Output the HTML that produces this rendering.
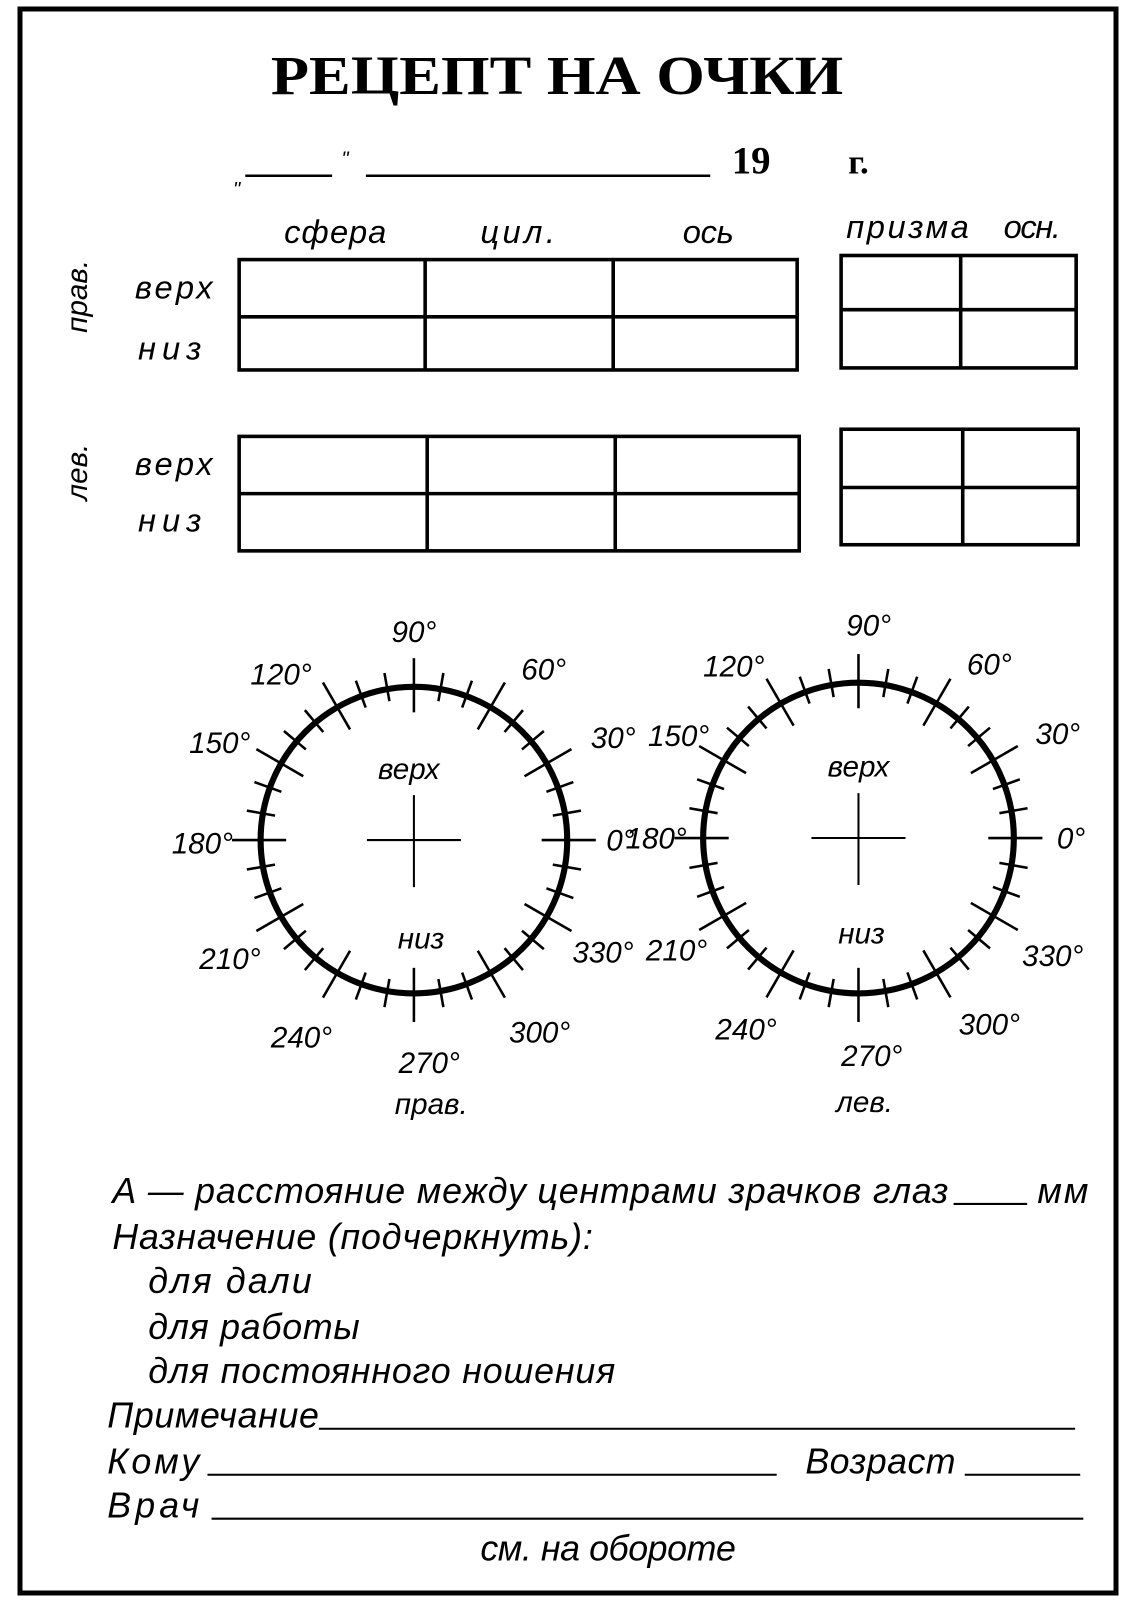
<!DOCTYPE html>
<html><head><meta charset="utf-8"><style>
html,body{margin:0;padding:0;background:#fff}
svg{display:block}
.t{font-family:"Liberation Sans","DejaVu Sans",sans-serif;font-style:italic;fill:#000}
.s{font-family:"Liberation Serif",serif;font-weight:bold;fill:#000}
</style></head><body>
<svg id="sv" width="1128" height="1604" viewBox="0 0 1128 1604" xmlns="http://www.w3.org/2000/svg">
<rect x="20" y="9" width="1096" height="1584" fill="none" stroke="#000" stroke-width="5"/>
<g transform="scale(1.022)">
<text x="545" y="92" text-anchor="middle" class="s" font-size="54" textLength="560" lengthAdjust="spacingAndGlyphs">РЕЦЕПТ НА ОЧКИ</text>
<g stroke="#000" stroke-width="2.5">
<line x1="240" y1="172" x2="325" y2="172"/>
<line x1="358" y1="172" x2="695" y2="172"/>
</g>
<text x="228" y="192" class="t" font-size="20">"</text>
<text x="334" y="162" class="t" font-size="20">"</text>
<text x="735" y="170" text-anchor="middle" class="s" font-size="38" font-weight="normal">19</text>
<text x="840" y="170" text-anchor="middle" class="s" font-size="34" font-weight="normal">г.</text>
<g class="t" font-size="32" lengthAdjust="spacingAndGlyphs">
<text x="278" y="238" textLength="100">сфера</text><text x="470" y="238" textLength="73">цил.</text><text x="668" y="238" textLength="50">ось</text>
<text x="828" y="233" textLength="120">призма</text><text x="982" y="233" textLength="56">осн.</text>
<text x="132" y="292" textLength="76">верх</text><text x="135" y="352" textLength="62">низ</text>
<text x="132" y="465" textLength="76">верх</text><text x="135" y="520" textLength="62">низ</text>
</g>
<g class="t" font-size="29" text-anchor="middle">
<text transform="translate(85,290) rotate(-90)">прав.</text>
<text transform="translate(85,462) rotate(-90)">лев.</text>
</g>
<g fill="none" stroke="#000" stroke-width="3.5">
<rect x="234" y="254" width="546" height="108"/>
<line x1="234" y1="310" x2="780" y2="310"/><line x1="416" y1="254" x2="416" y2="362"/><line x1="600" y1="254" x2="600" y2="362"/>
<rect x="823" y="250" width="230" height="110"/>
<line x1="823" y1="303" x2="1053" y2="303"/><line x1="940" y1="250" x2="940" y2="360"/>
<rect x="234" y="427" width="548" height="112"/>
<line x1="234" y1="483" x2="782" y2="483"/><line x1="418" y1="427" x2="418" y2="539"/><line x1="602" y1="427" x2="602" y2="539"/>
<rect x="823" y="420" width="232" height="113"/>
<line x1="823" y1="477" x2="1055" y2="477"/><line x1="942" y1="420" x2="942" y2="533"/>
</g>
<g id="dials"></g>
<g class="t" font-size="29" text-anchor="middle">
<text x="405" y="628">90°</text><text x="532" y="665">60°</text><text x="600" y="732">30°</text><text x="607" y="832">0°</text>
<text x="590" y="942">330°</text><text x="528" y="1020">300°</text><text x="420" y="1050">270°</text><text x="295" y="1025">240°</text>
<text x="225" y="948">210°</text><text x="198" y="835">180°</text><text x="215" y="737">150°</text><text x="275" y="670">120°</text>
<text x="400" y="762">верх</text><text x="412" y="928">низ</text><text x="422" y="1090">прав.</text>
<text x="850" y="622">90°</text><text x="968" y="660">60°</text><text x="1035" y="728">30°</text><text x="1048" y="830">0°</text>
<text x="1030" y="945">330°</text><text x="968" y="1012">300°</text><text x="853" y="1043">270°</text><text x="730" y="1017">240°</text>
<text x="662" y="940">210°</text><text x="642" y="830">180°</text><text x="664" y="730">150°</text><text x="718" y="662">120°</text>
<text x="840" y="760">верх</text><text x="843" y="923">низ</text><text x="846" y="1088">лев.</text>
</g>
<g class="t" font-size="35" lengthAdjust="spacingAndGlyphs">
<text x="110" y="1177" textLength="818">А — расстояние между центрами зрачков глаз</text>
<text x="1015" y="1177" textLength="50">мм</text>
<text x="110" y="1222" textLength="470">Назначение (подчеркнуть):</text>
<text x="145" y="1265" textLength="160">для дали</text>
<text x="145" y="1310" textLength="207">для работы</text>
<text x="145" y="1353" textLength="457">для постоянного ношения</text>
<text x="105" y="1397" textLength="207">Примечание</text>
<text x="105" y="1442" textLength="90">Кому</text>
<text x="788" y="1442" textLength="147">Возраст</text>
<text x="105" y="1485" textLength="90">Врач</text>
<text x="470" y="1527" textLength="250">см. на обороте</text>
</g>
<g stroke="#000" stroke-width="2">
<line x1="933" y1="1178" x2="1005" y2="1178"/>
<line x1="312" y1="1398" x2="1052" y2="1398"/>
<line x1="203" y1="1443" x2="760" y2="1443"/>
<line x1="944" y1="1443" x2="1057" y2="1443"/>
<line x1="207" y1="1486" x2="1060" y2="1486"/>
</g>
</g>
</svg>
<script>
(function(){
var g=document.getElementById('dials'),h='';
function dial(cx,cy,r){
 h+='<circle cx="'+cx+'" cy="'+cy+'" r="'+r+'" fill="none" stroke="#000" stroke-width="6"/>';
 for(var a=0;a<360;a+=10){
  var rad=a*Math.PI/180,c=Math.cos(rad),s=-Math.sin(rad);
  var big=(a%30==0),ri=big?r-25:r-12,ro=big?r+28:r+16;
  h+='<line x1="'+(cx+ri*c)+'" y1="'+(cy+ri*s)+'" x2="'+(cx+ro*c)+'" y2="'+(cy+ro*s)+'" stroke="#000" stroke-width="2.5"/>';
 }
 h+='<line x1="'+(cx-46)+'" y1="'+cy+'" x2="'+(cx+46)+'" y2="'+cy+'" stroke="#000" stroke-width="2"/>';
 h+='<line x1="'+cx+'" y1="'+(cy-44)+'" x2="'+cx+'" y2="'+(cy+46)+'" stroke="#000" stroke-width="2"/>';
}
dial(405,822,150);dial(840,820,152);
g.innerHTML=h;
})();
</script>
</body></html>
